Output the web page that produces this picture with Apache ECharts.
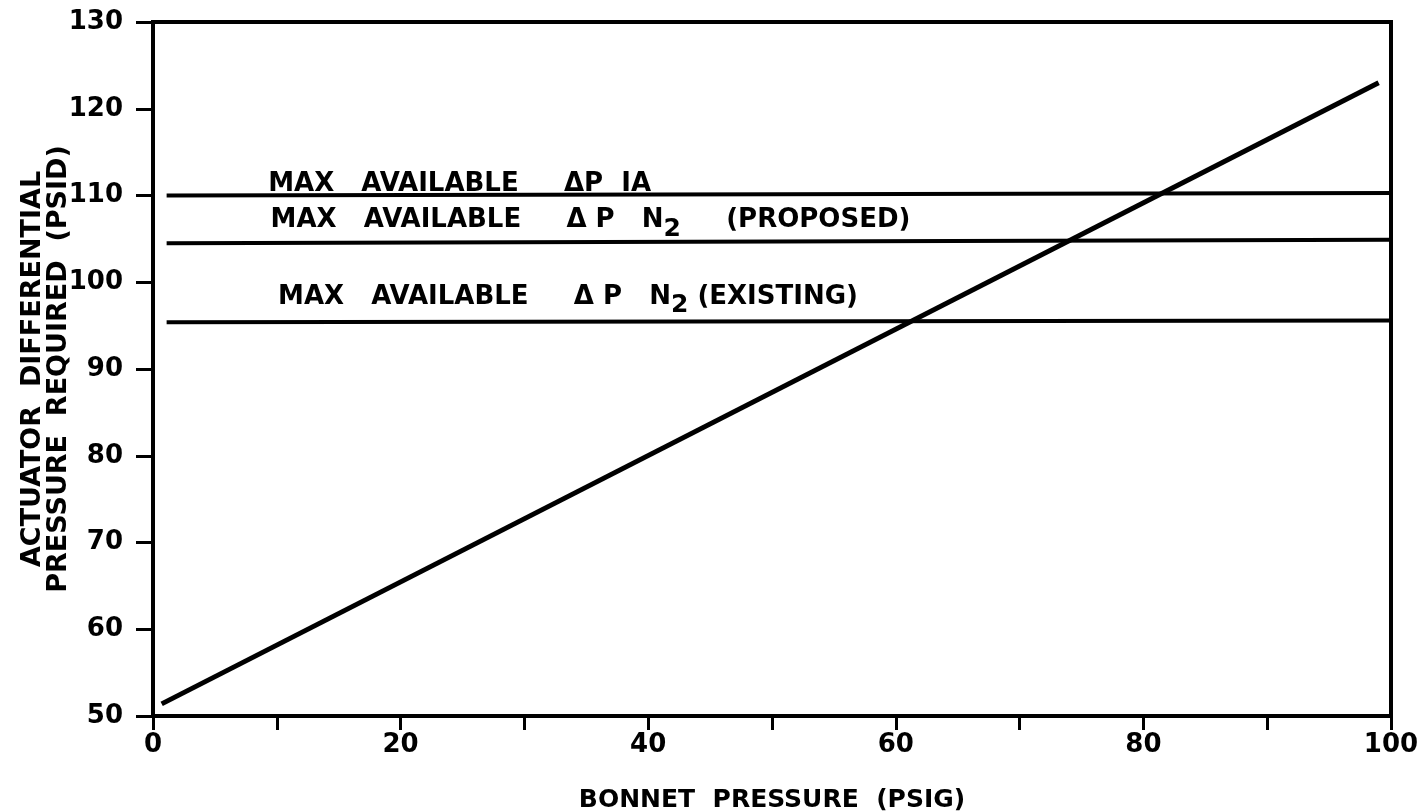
<!DOCTYPE html>
<html>
<head>
<meta charset="utf-8">
<script src="https://cdn.jsdelivr.net/npm/echarts@6/dist/echarts.min.js"></script>
<style>
  html, body { margin: 0; padding: 0; background: #fff; }
  #chart { width: 1417px; height: 812px; }
</style>
</head>
<body>
<div id="chart"></div>
<script>
// bonnet pressure (psig) vs actuator differential pressure required (psid)
const requiredLine = [[0.7, 51.4], [99, 123]];
const iaLine = [[1.1, 110], [100, 110.3]];
const proposedLine = [[1.1, 104.5], [100, 104.9]];
const existingLine = [[1.1, 95.4], [100, 95.6]];

const xTicks = [0, 20, 40, 60, 80, 100];
const yTicks = [50, 60, 70, 80, 90, 100, 110, 120, 130];

// where each annotation text starts (data coords)
const labelPoints = [
  { value: [9.3, 111.35], text: 'MAX   AVAILABLE     \u0394P  IA' },
  { value: [9.5, 107.1], text: 'MAX   AVAILABLE     \u0394 P   N{sub|2}     (PROPOSED)' },
  { value: [10.1, 98.3], text: 'MAX   AVAILABLE     \u0394 P   N{sub|2} (EXISTING)' }
];

const font = '"DejaVu Sans", sans-serif';
const myChart = echarts.init(document.getElementById('chart'));

const flatLine = (data) => ({
  type: 'line',
  data: data,
  symbol: 'none',
  silent: true,
  lineStyle: { color: '#000', width: 4 }
});

const option = {
  animation: false,
  backgroundColor: '#fff',
  grid: {
    left: 153,
    right: 26,
    top: 22,
    bottom: 96,
    outerBoundsMode: 'none',
    containLabel: false,
    show: true,
    borderColor: '#000',
    borderWidth: 4
  },
  xAxis: {
    type: 'value',
    min: 0,
    max: 100,
    interval: 10,
    name: 'BONNET  PRESSURE  (PSIG)',
    nameLocation: 'middle',
    nameGap: 72,
    nameMoveOverlap: false,
    nameTextStyle: { fontFamily: font, fontSize: 25, fontWeight: 'bold', color: '#000' },
    axisLine: { show: true, lineStyle: { color: '#000', width: 4 } },
    axisTick: { show: true, inside: false, length: 14, lineStyle: { color: '#000', width: 3 } },
    axisLabel: {
      margin: 16,
      fontFamily: font,
      fontSize: 26,
      fontWeight: 'bold',
      color: '#000',
      formatter: (v) => (xTicks.indexOf(v) >= 0 ? String(v) : '')
    },
    splitLine: { show: false }
  },
  yAxis: {
    type: 'value',
    min: 50,
    max: 130,
    interval: 10,
    name: 'ACTUATOR  DIFFERENTIAL\nPRESSURE  REQUIRED  (PSID)',
    nameLocation: 'middle',
    nameGap: 81,
    nameMoveOverlap: false,
    nameTextStyle: { fontFamily: font, fontSize: 27, fontWeight: 'bold', color: '#000', lineHeight: 26 },
    axisLine: { show: true, lineStyle: { color: '#000', width: 4 } },
    axisTick: { show: true, inside: false, length: 17, lineStyle: { color: '#000', width: 3 } },
    axisLabel: {
      margin: 30,
      fontFamily: font,
      fontSize: 26,
      fontWeight: 'bold',
      color: '#000',
      formatter: (v) => (yTicks.indexOf(v) >= 0 ? String(v) : '')
    },
    splitLine: { show: false }
  },
  series: [
    {
      type: 'line',
      data: requiredLine,
      symbol: 'none',
      silent: true,
      lineStyle: { color: '#000', width: 5 }
    },
    flatLine(iaLine),
    flatLine(proposedLine),
    flatLine(existingLine),
    {
      type: 'scatter',
      symbolSize: 0,
      silent: true,
      itemStyle: { opacity: 1 },
      data: labelPoints.map((p) => ({ value: p.value, text: p.text })),
      label: {
        show: true,
        position: 'right',
        distance: 0,
        opacity: 1,
        fontFamily: font,
        fontSize: 26,
        fontWeight: 'bold',
        color: '#000',
        formatter: (p) => p.data.text,
        rich: {
          sub: { fontFamily: font, fontSize: 25, fontWeight: 'bold', color: '#000', padding: [17, 0, 0, 0] }
        }
      }
    }
  ]
};

myChart.setOption(option);
window.addEventListener('resize', () => {
  myChart.resize();
});
</script>
</body>
</html>
